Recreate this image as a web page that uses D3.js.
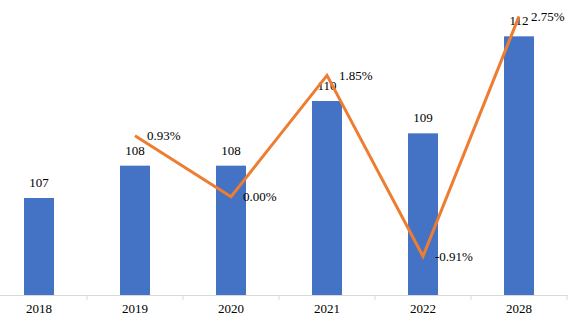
<!DOCTYPE html>
<html>
<head>
<meta charset="utf-8">
<script src="https://cdn.jsdelivr.net/npm/d3@7"></script>
<style>
  html, body { margin: 0; padding: 0; background: #fff; }
  svg { display: block; }
  text { font-family: "Liberation Serif", "Times New Roman", serif; font-size: 13px; fill: #000; }
</style>
</head>
<body>
<svg id="chart" width="572" height="323"></svg>
<script>
// Years on the category axis
const years = ["2018", "2019", "2020", "2021", "2022", "2028"];
// Bar values (index)
const values = [107, 108, 108, 110, 109, 112];
// Growth rate (%) for each year after the first
const growth = [null, 0.93, 0.00, 1.85, -0.91, 2.75];
const growthLabels = [null, "0.93%", "0.00%", "1.85%", "-0.91%", "2.75%"];

const svg = d3.select("#chart");
const baseY = 295;

const x = d3.scaleBand().domain(years).range([-9, 567]).paddingInner(0).paddingOuter(0);
const barW = 30;
const y = d3.scaleLinear().domain([104, 113]).range([baseY, 4]);
const y2 = d3.scaleLinear().domain([-1.5, 3]).range([baseY, 0]);

// bars
svg.append("g").selectAll("rect")
  .data(values)
  .join("rect")
  .attr("x", (d, i) => x(years[i]) + x.bandwidth() / 2 - barW / 2)
  .attr("y", d => y(d))
  .attr("width", barW)
  .attr("height", d => baseY - y(d))
  .attr("fill", "#4472C4");

// bar value labels
svg.append("g").selectAll("text")
  .data(values)
  .join("text")
  .attr("x", (d, i) => x(years[i]) + x.bandwidth() / 2)
  .attr("y", d => y(d) - 11)
  .attr("text-anchor", "middle")
  .text(d => d);

// category axis
const axis = d3.axisBottom(x).tickSize(0).tickPadding(9);
const gx = svg.append("g").attr("transform", `translate(0,${baseY})`).call(axis);
gx.select(".domain").attr("stroke", "#d9d9d9").attr("stroke-width", 1);
gx.selectAll("text").style("font-family", "Liberation Serif, serif").style("font-size", "13px").attr("fill", "#000");
// category separators
svg.append("g").selectAll("line")
  .data(years.slice(1).concat(["end"]))
  .join("line")
  .attr("x1", (d, i) => x(years[i]) + x.bandwidth())
  .attr("x2", (d, i) => x(years[i]) + x.bandwidth())
  .attr("y1", baseY)
  .attr("y2", baseY + 5)
  .attr("stroke", "#d9d9d9");

// growth line
const pts = growth.map((g, i) => ({ g, i })).filter(p => p.g !== null);
const line = d3.line()
  .x(p => x(years[p.i]) + x.bandwidth() / 2)
  .y(p => y2(p.g));
svg.append("path")
  .datum(pts)
  .attr("d", line)
  .attr("fill", "none")
  .attr("stroke", "#ED7D31")
  .attr("stroke-width", 3)
  .attr("stroke-linejoin", "miter");

// growth labels
svg.append("g").selectAll("text")
  .data(pts)
  .join("text")
  .attr("x", p => x(years[p.i]) + x.bandwidth() / 2 + 12)
  .attr("y", p => y2(p.g) + 4.5)
  .text(p => growthLabels[p.i]);
</script>
</body>
</html>
